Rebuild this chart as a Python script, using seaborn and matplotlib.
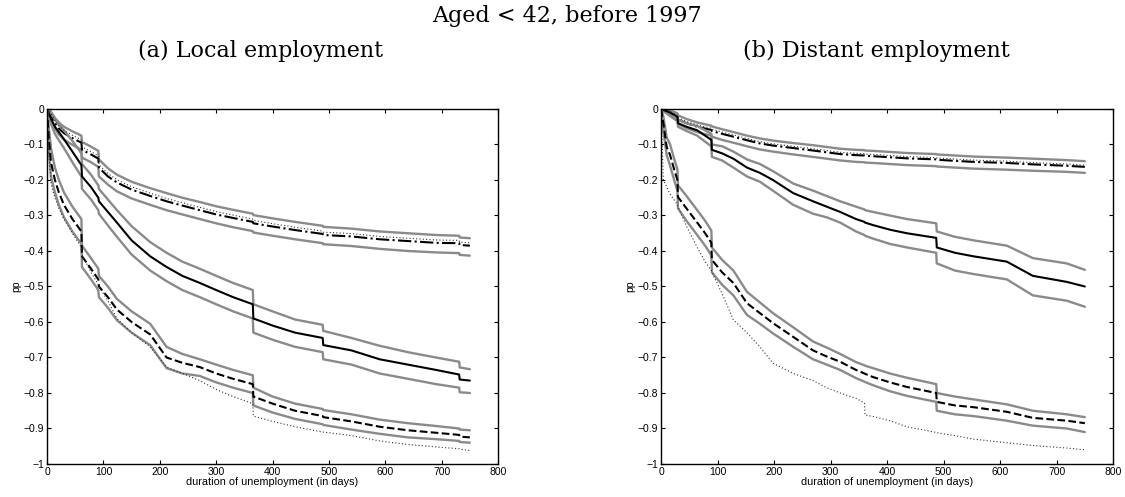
import numpy as np
import matplotlib
matplotlib.use('Agg')
import matplotlib.pyplot as plt
import seaborn as sns
from matplotlib.ticker import FuncFormatter, MultipleLocator

# ---- data (pp, by duration of unemployment in days) ----
# close pairs of days (61/62, 91/92 ...) mark the visible jumps
days_a = [0, 3, 7, 14, 21, 30, 45, 61, 62, 78, 91, 92, 108, 124, 150, 183, 212, 240, 271,
          300, 330, 365, 366, 400, 440, 489, 490, 540, 590, 640, 690, 731, 732, 750]

# (a) top group: dash-dot centre with gray bands, dotted line
a_top_mid = [0, -0.01, -0.02, -0.04, -0.055, -0.068, -0.082, -0.095, -0.115, -0.128, -0.14, -0.165,
             -0.19, -0.207, -0.227, -0.245, -0.26, -0.272, -0.285, -0.297, -0.307, -0.318, -0.322,
             -0.331, -0.341, -0.352, -0.355, -0.359, -0.367, -0.372, -0.377, -0.378, -0.383, -0.385]
a_top_hi = [0, 0, -0.008, -0.025, -0.038, -0.05, -0.063, -0.075, -0.093, -0.106, -0.118, -0.142,
            -0.167, -0.185, -0.205, -0.223, -0.237, -0.25, -0.262, -0.274, -0.284, -0.295, -0.299,
            -0.308, -0.318, -0.329, -0.332, -0.337, -0.345, -0.35, -0.355, -0.357, -0.362, -0.364]
a_top_lo = [0, -0.018, -0.032, -0.055, -0.072, -0.086, -0.101, -0.115, -0.137, -0.15, -0.163, -0.19,
            -0.213, -0.232, -0.252, -0.27, -0.285, -0.297, -0.31, -0.322, -0.333, -0.344, -0.348,
            -0.357, -0.367, -0.378, -0.381, -0.386, -0.394, -0.4, -0.404, -0.406, -0.411, -0.413]
a_top_dot = [0, -0.004, -0.013, -0.032, -0.047, -0.06, -0.074, -0.087, -0.107, -0.12, -0.132, -0.157,
             -0.182, -0.199, -0.219, -0.237, -0.252, -0.264, -0.277, -0.289, -0.299, -0.31, -0.314,
             -0.323, -0.333, -0.344, -0.347, -0.351, -0.359, -0.364, -0.369, -0.37, -0.375, -0.377]

# (a) middle group: solid centre
a_mid_mid = [0, -0.012, -0.027, -0.05, -0.065, -0.085, -0.12, -0.158, -0.19, -0.22, -0.25, -0.26,
             -0.29, -0.32, -0.37, -0.415, -0.445, -0.47, -0.49, -0.51, -0.53, -0.55, -0.59,
             -0.61, -0.63, -0.645, -0.665, -0.68, -0.705, -0.72, -0.735, -0.748, -0.762, -0.765]
a_mid_hi = [0, -0.002, -0.012, -0.03, -0.045, -0.06, -0.09, -0.125, -0.155, -0.185, -0.215, -0.225,
            -0.255, -0.285, -0.33, -0.375, -0.405, -0.43, -0.45, -0.47, -0.49, -0.51, -0.55,
            -0.57, -0.593, -0.608, -0.625, -0.645, -0.667, -0.685, -0.7, -0.712, -0.728, -0.733]
a_mid_lo = [0, -0.022, -0.042, -0.07, -0.088, -0.11, -0.15, -0.19, -0.225, -0.255, -0.285, -0.295,
            -0.328, -0.36, -0.41, -0.455, -0.485, -0.51, -0.53, -0.55, -0.57, -0.59, -0.63,
            -0.65, -0.67, -0.685, -0.705, -0.72, -0.745, -0.76, -0.775, -0.785, -0.798, -0.8]

# (a) bottom group: dashed centre, dotted line below
a_bot_mid = [0, -0.08, -0.15, -0.2, -0.235, -0.27, -0.31, -0.345, -0.415, -0.45, -0.48, -0.5,
             -0.53, -0.565, -0.6, -0.635, -0.7, -0.715, -0.727, -0.745, -0.76, -0.775, -0.81,
             -0.83, -0.85, -0.865, -0.868, -0.88, -0.895, -0.905, -0.912, -0.918, -0.923, -0.925]
a_bot_hi = [0, -0.05, -0.11, -0.165, -0.2, -0.235, -0.275, -0.31, -0.385, -0.42, -0.45, -0.47,
            -0.5, -0.535, -0.57, -0.605, -0.67, -0.69, -0.705, -0.72, -0.735, -0.75, -0.785,
            -0.81, -0.83, -0.845, -0.848, -0.86, -0.875, -0.885, -0.893, -0.9, -0.903, -0.905]
a_bot_lo = [0, -0.11, -0.19, -0.235, -0.27, -0.305, -0.345, -0.38, -0.445, -0.48, -0.51, -0.53,
            -0.56, -0.595, -0.63, -0.665, -0.73, -0.745, -0.752, -0.77, -0.785, -0.8, -0.835,
            -0.855, -0.873, -0.888, -0.89, -0.903, -0.915, -0.925, -0.93, -0.935, -0.938, -0.94]
a_bot_dot = [0, -0.12, -0.21, -0.25, -0.28, -0.31, -0.35, -0.39, -0.41, -0.46, -0.495, -0.5,
             -0.54, -0.59, -0.63, -0.67, -0.727, -0.745, -0.765, -0.79, -0.81, -0.83, -0.865,
             -0.88, -0.895, -0.91, -0.91, -0.92, -0.935, -0.945, -0.952, -0.957, -0.958, -0.962]

days_b = [0, 4, 10, 16, 25, 29, 30, 45, 64, 78, 89, 90, 108, 128, 152, 175, 198, 234, 269, 293,
          317, 345, 360, 361, 375, 405, 435, 487, 488, 520, 553, 612, 658, 718, 750]

b_top_mid = [0, -0.003, -0.008, -0.012, -0.02, -0.024, -0.03, -0.04, -0.05, -0.055, -0.059, -0.062,
             -0.07, -0.078, -0.088, -0.097, -0.103, -0.11, -0.117, -0.122, -0.127, -0.13, -0.131,
             -0.132, -0.133, -0.136, -0.139, -0.142, -0.143, -0.146, -0.149, -0.152, -0.156, -0.16, -0.163]
b_top_hi = [0, 0, -0.002, -0.004, -0.01, -0.013, -0.018, -0.028, -0.038, -0.043, -0.047, -0.049,
            -0.057, -0.065, -0.075, -0.083, -0.089, -0.096, -0.102, -0.107, -0.112, -0.115, -0.116,
            -0.117, -0.118, -0.121, -0.124, -0.127, -0.128, -0.131, -0.134, -0.137, -0.14, -0.144, -0.147]
b_top_lo = [0, -0.006, -0.013, -0.02, -0.03, -0.035, -0.042, -0.054, -0.065, -0.071, -0.075, -0.078,
            -0.087, -0.095, -0.105, -0.114, -0.12, -0.128, -0.135, -0.14, -0.145, -0.149, -0.15,
            -0.151, -0.152, -0.155, -0.158, -0.161, -0.162, -0.165, -0.168, -0.171, -0.174, -0.177, -0.18]
b_top_dot = [0, -0.001, -0.004, -0.007, -0.015, -0.019, -0.025, -0.035, -0.045, -0.05, -0.054, -0.057,
             -0.065, -0.073, -0.083, -0.092, -0.098, -0.105, -0.112, -0.117, -0.122, -0.125, -0.126,
             -0.127, -0.128, -0.131, -0.134, -0.137, -0.138, -0.141, -0.144, -0.147, -0.151, -0.155, -0.158]

b_mid_mid = [0, -0.003, -0.006, -0.01, -0.018, -0.022, -0.04, -0.05, -0.06, -0.075, -0.087, -0.115,
             -0.125, -0.14, -0.165, -0.18, -0.2, -0.237, -0.26, -0.275, -0.29, -0.31, -0.318,
             -0.32, -0.327, -0.34, -0.35, -0.363, -0.39, -0.405, -0.415, -0.43, -0.47, -0.487, -0.5]
b_mid_hi = [0, 0, -0.002, -0.005, -0.01, -0.013, -0.03, -0.04, -0.048, -0.06, -0.07, -0.1,
            -0.105, -0.12, -0.142, -0.155, -0.175, -0.21, -0.23, -0.245, -0.26, -0.275, -0.283,
            -0.285, -0.29, -0.3, -0.31, -0.322, -0.345, -0.36, -0.37, -0.385, -0.42, -0.435, -0.453]
b_mid_lo = [0, -0.005, -0.01, -0.016, -0.026, -0.031, -0.05, -0.062, -0.075, -0.092, -0.105, -0.135,
            -0.145, -0.165, -0.19, -0.205, -0.23, -0.27, -0.295, -0.305, -0.32, -0.345, -0.355,
            -0.357, -0.365, -0.38, -0.39, -0.405, -0.435, -0.455, -0.465, -0.48, -0.525, -0.54, -0.557]

b_bot_mid = [0, -0.04, -0.107, -0.13, -0.18, -0.2, -0.248, -0.28, -0.32, -0.35, -0.377, -0.425,
             -0.46, -0.49, -0.547, -0.575, -0.603, -0.642, -0.68, -0.697, -0.712, -0.735, -0.745,
             -0.746, -0.755, -0.77, -0.783, -0.8, -0.825, -0.835, -0.84, -0.853, -0.87, -0.878, -0.885]
b_bot_hi = [0, -0.02, -0.08, -0.1, -0.15, -0.17, -0.215, -0.245, -0.285, -0.315, -0.342, -0.39,
            -0.425, -0.455, -0.515, -0.545, -0.575, -0.615, -0.655, -0.672, -0.69, -0.713, -0.722,
            -0.723, -0.73, -0.745, -0.757, -0.775, -0.8, -0.81, -0.818, -0.832, -0.85, -0.86, -0.868]
b_bot_lo = [0, -0.06, -0.13, -0.16, -0.21, -0.23, -0.28, -0.315, -0.355, -0.385, -0.412, -0.46,
            -0.495, -0.525, -0.58, -0.605, -0.632, -0.67, -0.705, -0.72, -0.735, -0.758, -0.768,
            -0.769, -0.778, -0.795, -0.808, -0.825, -0.85, -0.86, -0.865, -0.878, -0.892, -0.9, -0.91]
b_bot_dot = [0, -0.2, -0.22, -0.24, -0.26, -0.27, -0.275, -0.33, -0.39, -0.43, -0.455, -0.46,
             -0.52, -0.594, -0.63, -0.67, -0.716, -0.745, -0.765, -0.785, -0.8, -0.815, -0.828,
             -0.862, -0.866, -0.878, -0.895, -0.911, -0.912, -0.92, -0.93, -0.94, -0.948, -0.955, -0.96]

sup_title = 'Aged < 42, before 1997'
panel_titles = ['(a) Local employment', '(b) Distant employment']

sns.set_style('ticks')
plt.rcParams['font.family'] = ['Liberation Sans', 'DejaVu Sans']
plt.rcParams['xtick.direction'] = 'in'
plt.rcParams['ytick.direction'] = 'in'
for key in ['text.color', 'axes.labelcolor', 'xtick.color', 'ytick.color']:
    plt.rcParams[key] = 'black'

GRAY = '#8a8a8a'


def draw_panel(ax, days, groups, dots):
    for mid, hi, lo, style in groups:
        sns.lineplot(x=days, y=hi, ax=ax, color=GRAY, lw=1.7)
        sns.lineplot(x=days, y=lo, ax=ax, color=GRAY, lw=1.7)
        sns.lineplot(x=days, y=mid, ax=ax, color='k', lw=1.5, linestyle=style)
    for d in dots:
        sns.lineplot(x=days, y=d, ax=ax, color='#333333', lw=0.8, linestyle=(0, (1, 2)))

    ax.set_xlim(0, 800)
    ax.set_ylim(-1, 0)
    ax.xaxis.set_major_locator(MultipleLocator(100))
    ax.yaxis.set_major_locator(MultipleLocator(0.1))
    ax.yaxis.set_major_formatter(FuncFormatter(lambda v, p: ('%g' % round(v, 2)).replace('-', '\u2212')))
    ax.tick_params(labelsize=7.5, length=3, width=0.8, top=True, right=True, pad=2)
    for s in ax.spines.values():
        s.set_linewidth(1.0)
        s.set_color('k')
    ax.set_xlabel('duration of unemployment (in days)', fontsize=7.8, labelpad=0)
    ax.set_ylabel('pp', fontsize=7.5, labelpad=2)


fig = plt.figure(figsize=(11.25, 4.97), dpi=100)
ax1 = fig.add_axes([0.0418, 0.0664, 0.4009, 0.7143])
ax2 = fig.add_axes([0.5876, 0.0664, 0.4018, 0.7143])

draw_panel(ax1, days_a,
           [(a_top_mid, a_top_hi, a_top_lo, '-.'),
            (a_mid_mid, a_mid_hi, a_mid_lo, '-'),
            (a_bot_mid, a_bot_hi, a_bot_lo, '--')],
           [a_top_dot, a_bot_dot])
draw_panel(ax2, days_b,
           [(b_top_mid, b_top_hi, b_top_lo, '-.'),
            (b_mid_mid, b_mid_hi, b_mid_lo, '-'),
            (b_bot_mid, b_bot_hi, b_bot_lo, '--')],
           [b_top_dot, b_bot_dot])

serif = ['DejaVu Serif']
fig.text(0.504, 0.968, sup_title, ha='center', va='center', fontsize=16, family=serif)
fig.text(0.232, 0.898, panel_titles[0], ha='center', va='center', fontsize=16, family=serif)
fig.text(0.779, 0.898, panel_titles[1], ha='center', va='center', fontsize=16, family=serif)

fig.savefig('out.png', dpi=100)
